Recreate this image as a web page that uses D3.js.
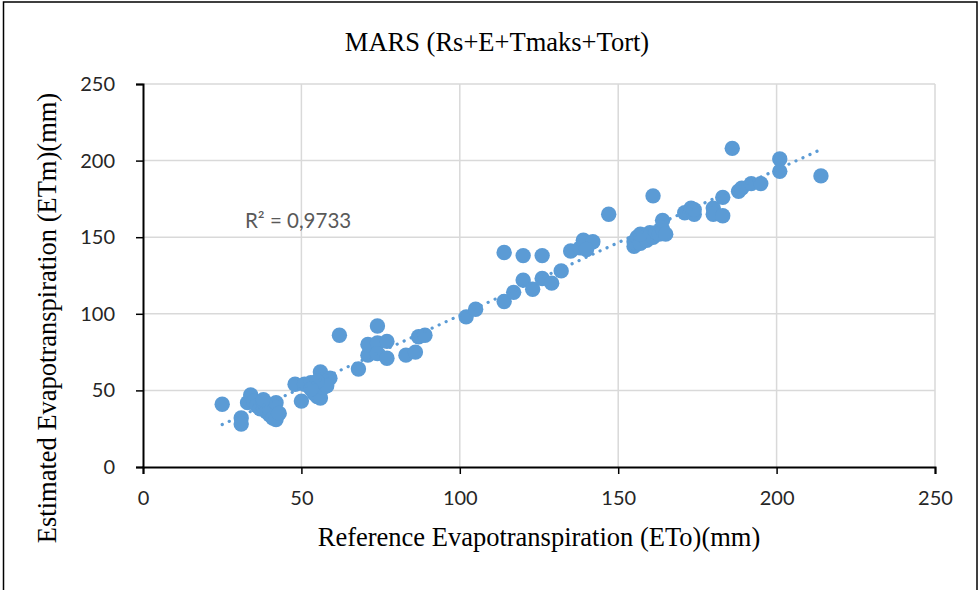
<!DOCTYPE html>
<html><head><meta charset="utf-8">
<script src="https://cdn.jsdelivr.net/npm/d3@7"></script>
<style>html,body{margin:0;padding:0;background:#fff;} svg{display:block;}</style>
</head><body>
<svg id="chart" width="979" height="590"></svg>
<script>
const chartTitle = "MARS (Rs+E+Tmaks+Tort)";
const xTitle = "Reference Evapotranspiration (ETo)(mm)";
const yTitle = "Estimated Evapotranspiration (ETm)(mm)";
const xTicks = [0, 50, 100, 150, 200, 250];
const yTicks = [0, 50, 100, 150, 200, 250];
const r2Label = "R² = 0,9733";
// Reference ETo (x) values
const etoValues = [25,31,31,33,34,35,36,37,38,39,40,40,41,42,42,43,38,
  48,50,51,53,54,55,55,56,56,57,58,57,59,58,55,53,
  62,68,71,71,74,74,74,77,77,83,86,87,89,
  102,105,114,114,117,120,120,123,126,126,129,132,135,138,140,141,139,142,140,
  147,155,155,156,157,158,159,160,161,162,161,163,164,164,165,157,
  171,173,174,174,180,180,183,183,188,189,192,195,186,201,201,214];
// Estimated ETm (y) values
const etmValues = [41,32,28,42,47,43,40,38,42,36,34,38,32,31,42,35,44,
  54,43,54,55,48,51,46,45,62,52,55,57,58,53,56,51,
  86,64,73,80,92,81,74,82,71,73,75,85,86,
  98,103,108,140,114,122,138,116,123,138,120,128,141,143,144,146,148,147,142,
  165,144,147,150,146,151,148,153,150,153,177,152,155,161,152,152,
  166,169,165,168,169,165,176,164,180,182,185,185,208,201,193,190];

const data = etoValues.map((x,i)=>({x, y: etmValues[i]}));

const svg = d3.select("#chart");
const m = {left:143, right:935, top:84, bottom:467};

// outer frame
svg.append("rect").attr("x",3.5).attr("y",2).attr("width",973.5).attr("height",600)
  .attr("fill","none").attr("stroke","#000").attr("stroke-width",1.5);

const x = d3.scaleLinear().domain([0,250]).range([m.left, m.right]);
const y = d3.scaleLinear().domain([0,250]).range([m.bottom, m.top]);

// gridlines
svg.append("g").selectAll("line").data(xTicks.slice(1)).join("line")
  .attr("x1",d=>x(d)).attr("x2",d=>x(d)).attr("y1",y(0)).attr("y2",y(250))
  .attr("stroke","#d9d9d9").attr("stroke-width",1.5);
svg.append("g").selectAll("line").data(yTicks.slice(1)).join("line")
  .attr("x1",x(0)).attr("x2",x(250)).attr("y1",d=>y(d)).attr("y2",d=>y(d))
  .attr("stroke","#d9d9d9").attr("stroke-width",1.5);

// axes
const fontTick = "Lato, 'Open Sans', sans-serif";
const xAxis = svg.append("g").attr("transform",`translate(0,${y(0)})`)
  .call(d3.axisBottom(x).tickValues(xTicks).tickSize(7).tickPadding(17));
const yAxis = svg.append("g").attr("transform",`translate(${x(0)},0)`)
  .call(d3.axisLeft(y).tickValues(yTicks).tickSize(7).tickPadding(21));
[xAxis,yAxis].forEach(g=>{
  g.select(".domain").attr("stroke","#000").attr("stroke-width",2);
  g.selectAll(".tick line").attr("stroke","#000").attr("stroke-width",1.5);
  g.selectAll(".tick text").attr("fill","#262626").style("font-family",fontTick).style("font-size","20px");
});

// trendline (least squares from data)
const mx = d3.mean(data,d=>d.x), my = d3.mean(data,d=>d.y);
const slope = d3.sum(data,d=>(d.x-mx)*(d.y-my))/d3.sum(data,d=>(d.x-mx)*(d.x-mx));
const intercept = my - slope*mx;
const [xmin,xmax] = d3.extent(data,d=>d.x);

// points
svg.append("g").selectAll("circle").data(data).join("circle")
  .attr("cx",d=>x(d.x)).attr("cy",d=>y(d.y)).attr("r",7.7)
  .attr("fill","#5b9bd5");

svg.append("line")
  .attr("x1",x(xmin)).attr("y1",y(intercept+slope*xmin))
  .attr("x2",x(xmax)).attr("y2",y(intercept+slope*xmax))
  .attr("stroke","#5b9bd5").attr("stroke-width",3.2)
  .attr("stroke-linecap","round").attr("stroke-dasharray","0.1,7.6");

// R² label
svg.append("text").attr("x",245).attr("y",228).text(r2Label)
  .attr("fill","#595959").style("font-family",fontTick).style("font-size","20.5px");

// titles
const serif = "'Liberation Serif', 'Times New Roman', serif";
svg.append("text").attr("x",497).attr("y",51).attr("text-anchor","middle")
  .text(chartTitle).style("font-family",serif).style("font-size","26.5px").attr("fill","#000");
svg.append("text").attr("x",539).attr("y",546).attr("text-anchor","middle")
  .text(xTitle).style("font-family",serif).style("font-size","26.5px").attr("fill","#000");
svg.append("text").attr("transform","translate(56,318) rotate(-90)").attr("text-anchor","middle")
  .text(yTitle).style("font-family",serif).style("font-size","26.5px").attr("fill","#000");
</script>
</body></html>
